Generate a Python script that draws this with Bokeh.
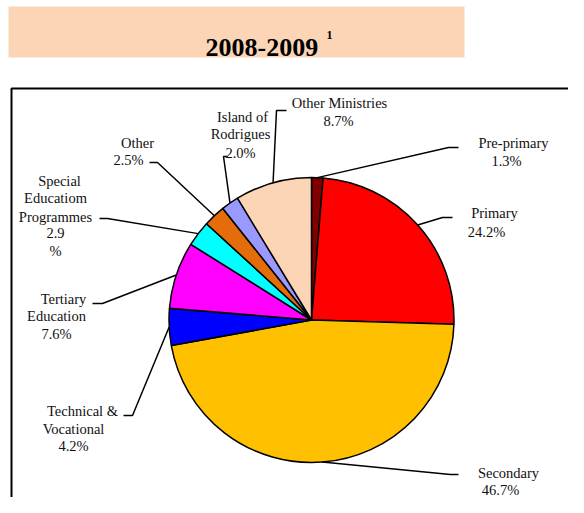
import math
from bokeh.plotting import figure
from bokeh.models import Range1d, ColumnDataSource
from bokeh.core.properties import value
from bokeh.embed import file_html
from bokeh.resources import INLINE

# ---- data ----
categories = ["Pre-primary", "Primary", "Secondary", "Technical & Vocational",
              "Tertiary Education", "Special Educatiom Programmes", "Other",
              "Island of Rodrigues", "Other Ministries"]
shares = [1.3, 24.2, 46.7, 4.2, 7.6, 2.9, 2.5, 2.0, 8.7]
colors = ["#800000", "#FF0000", "#FFC000", "#0000FF", "#FF00FF",
          "#00FFFF", "#E46C0A", "#9999FF", "#FBD5B5"]
label_lines = [["Pre-primary", "1.3%"],
               ["Primary", "24.2%"],
               ["Secondary", "46.7%"],
               ["Technical &", "Vocational", "4.2%"],
               ["Tertiary", "Education", "7.6%"],
               ["Special", "Educatiom", "Programmes", "2.9", "%"],
               ["Other", "2.5%"],
               ["Island of", "Rodrigues", "2.0%"],
               ["Other Ministries", "8.7%"]]
title_text = "2008-2009"
title_note = "1"

# ---- layout (pixel coordinates of the reference picture) ----
W, H = 568, 497
def Y(sy):
    return 513 - sy

cx, cy, R = 311, Y(319.5), 142.5
label_x = [[513, 506], [494, 486], [508, 500], [82, 73, 73], [63, 56, 56],
           [59, 55, 55, 55, 55], [137, 128], [242, 240, 240], [339, 338]]
label_y = [[142, 160], [212, 231], [472, 489], [410, 428, 445], [298, 315, 333],
           [180, 197, 216, 232, 250], [142, 159], [116, 133, 152], [102, 120]]
elbows = [[(448, 147), (458, 147)], [(442, 217), (452, 217)], [(450, 474), (458, 474)],
          [(132, 415), (123, 415)], [(102, 303), (92, 303)], [(107, 218), (99, 218)],
          [(157, 162), (149, 162)], [(223, 156), (227, 156)], [(276, 110), (286, 110)]]

p = figure(width=W, height=H, output_backend="svg", toolbar_location=None,
           x_range=Range1d(0, W), y_range=Range1d(Y(H), Y(0)),
           min_border=0, outline_line_color=None)
p.axis.visible = False
p.grid.visible = False
p.background_fill_color = "white"
p.border_fill_color = "white"

font = value("Liberation Serif")

# title box
p.quad(left=[8], right=[464], top=[Y(6)], bottom=[Y(57)],
       fill_color="#FBD5B5", line_color=None)
p.text(x=[205], y=[Y(47)], text=[title_text], text_font=font,
       text_font_size="26px", text_font_style="bold", text_align="left",
       text_baseline="alphabetic", text_color="black")
p.text(x=[326], y=[Y(34.5)], text=[title_note], text_font=font,
       text_font_size="12px", text_font_style="bold", text_align="left",
       text_baseline="alphabetic", text_color="black")

# chart border (right and bottom edges lie outside the visible area)
p.quad(left=[11], right=[640], top=[Y(88)], bottom=[Y(560)],
       fill_color=None, line_color="black", line_width=2)

# pie
total = sum(shares)
starts, ends, mids = [], [], []
cum = 0.0
for s in shares:
    c0 = cum / total
    cum += s
    c1 = cum / total
    starts.append(math.pi / 2 - 2 * math.pi * c1)
    ends.append(math.pi / 2 - 2 * math.pi * c0)
    mids.append(math.pi / 2 - 2 * math.pi * (c0 + c1) / 2)

src = ColumnDataSource(dict(x=[cx] * len(shares), y=[cy] * len(shares),
                            start=starts, end=ends, color=colors, cat=categories))
p.wedge(x="x", y="y", radius=R, radius_units="screen", start_angle="start",
        end_angle="end", fill_color="color", line_color="black", line_width=1.5,
        source=src)

# leader lines
xs, ys = [], []
for m, el in zip(mids, elbows):
    x0 = cx + R * math.cos(m)
    y0 = cy + R * math.sin(m)
    xs.append([x0] + [e[0] for e in el])
    ys.append([y0] + [Y(e[1]) for e in el])
p.multi_line(xs=xs, ys=ys, line_color="black", line_width=1.5)

# labels
tx, ty, tt = [], [], []
for lines, lx, ly in zip(label_lines, label_x, label_y):
    for t, a, b in zip(lines, lx, ly):
        tx.append(a)
        ty.append(Y(b))
        tt.append(t)
p.text(x=tx, y=ty, text=tt, text_font=font, text_font_size="14.5px",
       text_align="center", text_baseline="middle", text_color="#111111")

open("out.html", "w").write(file_html(p, INLINE))
